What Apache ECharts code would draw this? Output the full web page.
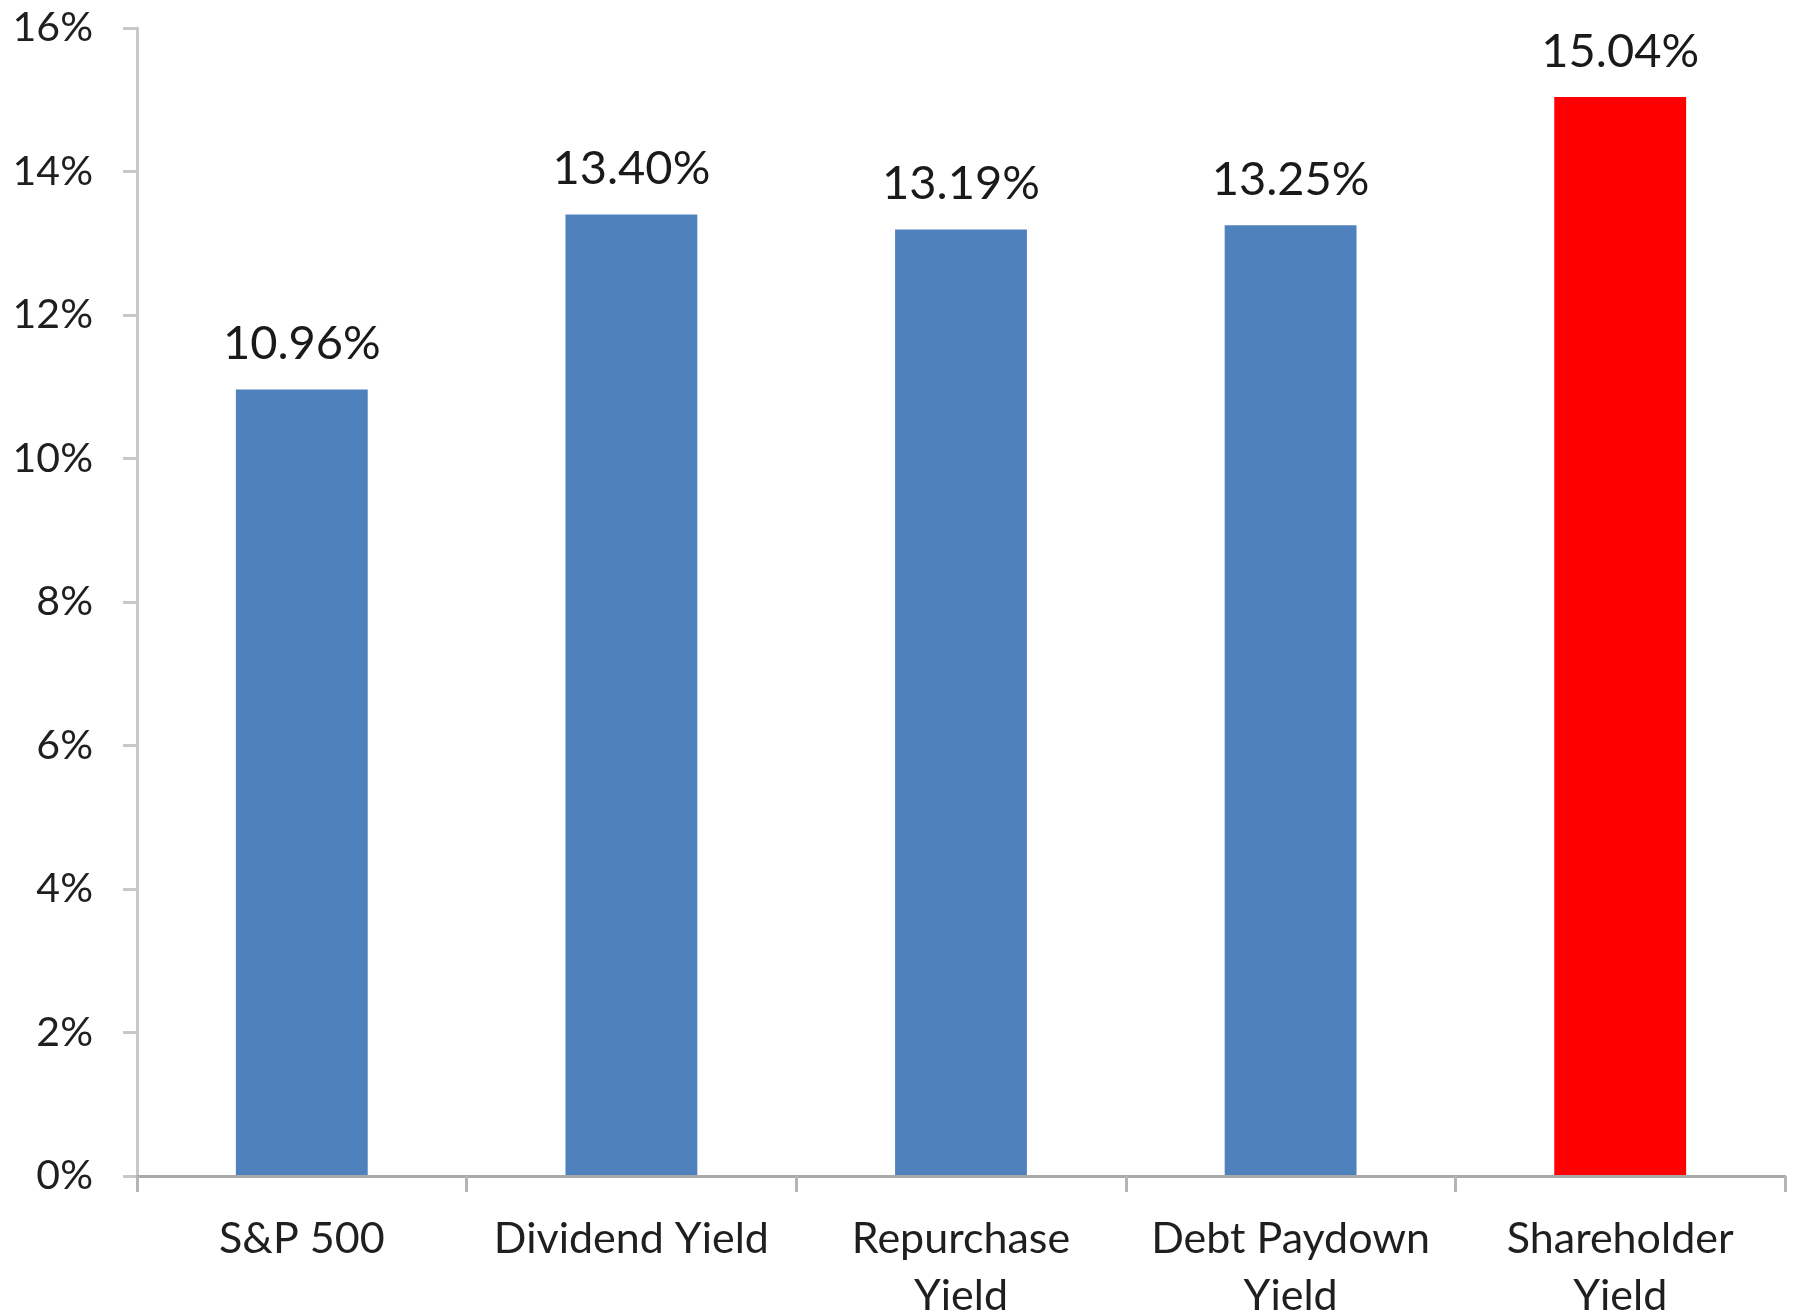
<!DOCTYPE html>
<html>
<head>
<meta charset="utf-8">
<title>Shareholder Yield vs. S&amp;P 500</title>
<script src="https://cdn.jsdelivr.net/npm/echarts@6/dist/echarts.min.js"></script>
<style>
  html, body { margin: 0; padding: 0; background: #ffffff; }
  #chart { width: 1800px; height: 1315px; }
</style>
</head>
<body>
<div id="chart"></div>
<script>
// Annual returns by strategy (percent)
const categories = ['S&P 500', 'Dividend Yield', 'Repurchase\nYield', 'Debt Paydown\nYield', 'Shareholder\nYield'];
const returns = [10.96, 13.40, 13.19, 13.25, 15.04];
const barColors = ['#4f81bd', '#4f81bd', '#4f81bd', '#4f81bd', '#ff0000'];

// Y axis: 0% to 16% in 2% steps
const yMin = 0;
const yMax = 16;
const yStep = 2;

const fontFamily = 'Lato, "Open Sans", sans-serif';

const chart = echarts.init(document.getElementById('chart'), null, { renderer: 'canvas' });

chart.setOption({
  animation: false,
  backgroundColor: '#ffffff',
  grid: {
    left: 137, right: 15, top: 28, bottom: 139,
    containLabel: false,
    outerBoundsMode: 'none'
  },
  xAxis: {
    type: 'category',
    data: categories,
    boundaryGap: true,
    axisLine: { show: true, lineStyle: { color: '#a9a9a9', width: 3 } },
    axisTick: { show: true, length: 16, lineStyle: { color: '#b5b5b5', width: 3 } },
    axisLabel: {
      color: '#1f1f1f',
      fontFamily: fontFamily,
      fontSize: 43,
      lineHeight: 57,
      margin: 35,
      interval: 0
    },
    z: 3
  },
  yAxis: {
    type: 'value',
    min: yMin,
    max: yMax,
    interval: yStep,
    axisLine: { show: true, lineStyle: { color: '#c8c8c8', width: 3 } },
    axisTick: { show: true, length: 14, lineStyle: { color: '#c8c8c8', width: 3 } },
    splitLine: { show: false },
    axisLabel: {
      color: '#1f1f1f',
      fontFamily: fontFamily,
      fontSize: 41,
      margin: 44,
      formatter: '{value}%'
    }
  },
  series: [{
    type: 'bar',
    data: returns.map((v, i) => ({ value: v, itemStyle: { color: barColors[i] } })),
    barWidth: '40%',
    itemStyle: { borderWidth: 0 },
    label: {
      show: true,
      position: 'top',
      distance: 22,
      color: '#1a1a1a',
      fontFamily: fontFamily,
      fontSize: 47,
      formatter: p => p.value.toFixed(2) + '%'
    },
    z: 2
  }]
});
</script>
</body>
</html>
